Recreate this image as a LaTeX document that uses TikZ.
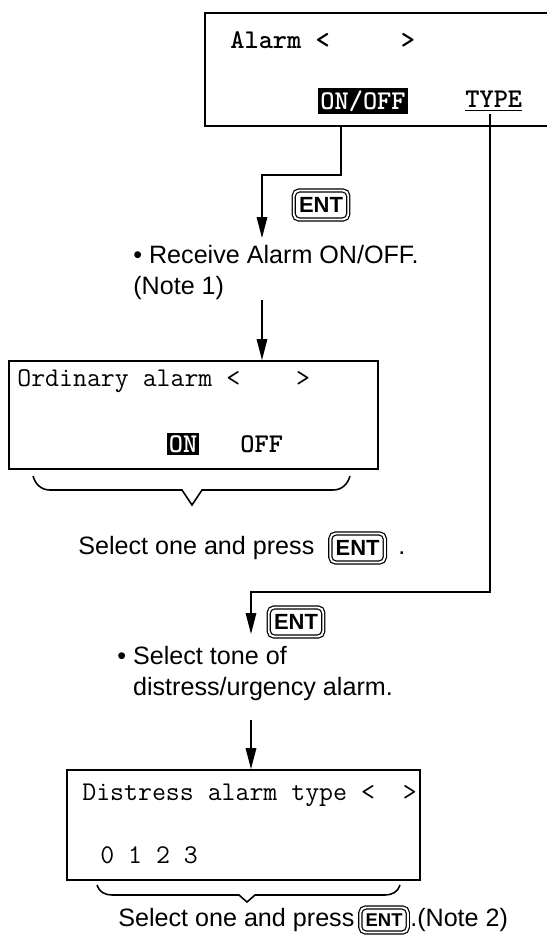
\documentclass[tikz,border=0pt]{standalone}
\usepackage{fontspec}
\setmainfont{Liberation Sans}
\usetikzlibrary{positioning,arrows.meta}

\begin{document}
\begin{tikzpicture}[
x=0.02cm, y=-0.02cm,
lcd/.style={
draw,
line width=1pt,
inner sep=0pt
},
lcdtext/.style={
anchor=west,
inner sep=0pt,
font=\ttfamily\fontsize{15.4}{18}\selectfont
},
lcdbold/.style={
lcdtext,
font=\ttfamily\bfseries\fontsize{15.4}{18}\selectfont
},
selected/.style={
fill=black,
text=white,
inner sep=1.2pt,
font=\ttfamily\bfseries\fontsize{15.4}{18}\selectfont
},
entkey/.style={
draw,
double=white,
double distance=1.1pt,
line width=0.7pt,
rounded corners=3pt,
inner xsep=3pt,
inner ysep=2pt,
minimum height=0.58cm,
font=\bfseries\fontsize{12.5}{12.5}\selectfont
},
note/.style={
inner sep=0pt,
align=left,
font=\fontsize{14.3}{17.5}\selectfont
},
arrow/.style={
-{Triangle[length=0.42cm,width=0.21cm]},
line width=0.9pt
},
line/.style={
line width=0.9pt
}
]

\useasboundingbox (0,0) rectangle (547,938);

% first menu
\node[lcd, minimum width=6.94cm, minimum height=2.26cm] (alarmbox) at (378.5,69.5) {};
\node[lcdbold] (alarmtitle) at (230,40) {Alarm <\ \ \ \ \ >};
\node[selected] (onoff) at (363,101) {ON/OFF};
\node[lcdbold] (type) at (465,101) {\underline{TYPE}};

\coordinate (onoffout) at (341,126);
\coordinate (typeout) at (490,114);
\coordinate (receivetop) at (262,238);

\draw[arrow] (onoffout) |- (262,175) -- (receivetop);
\node[entkey] (ent1) at (321,205) {ENT};

\node[note, anchor=north west] (receive) at (133,245)
{\textbullet\ Receive Alarm ON/OFF.\\(Note 1)};

% ordinary alarm
\node[lcd, minimum width=7.38cm, minimum height=2.16cm] (ordbox) at (193.5,415) {};
\node[lcdtext] (ordtitle) at (17,381) {Ordinary alarm <\ \ \ \ >};
\node[selected] (ordon) at (183,444) {ON};
\node[lcdbold] (ordoff) at (240,444) {OFF};

\coordinate (note1bottom) at (262,300);
\draw[arrow] (note1bottom) -- (note1bottom |- ordbox.north);

\draw[line] (33,476) to[out=-75,in=180] (50,490) -- (182,490)
-- (192,505) -- (202,490) -- (333,490) to[out=0,in=-105] (350,476);

\node[note, anchor=west] (select1) at (78,548) {Select one and press};
\node[entkey, right=0.3cm of select1] (ent3) {ENT};
\node[note, anchor=base west] (dot1) at ([xshift=0.25cm]ent3.east |- select1.base) {.};

% alarm type
\coordinate (tonetop) at (251,634);
\draw[arrow] (typeout) |- (251,592) -- (tonetop);
\node[entkey] (ent2) at (296,622) {ENT};

\node[note, anchor=north west] (tone) at (117,646)
{\textbullet\ Select tone of\\\hphantom{\textbullet\ }distress/urgency alarm.};

\node[lcd, minimum width=7.06cm, minimum height=2.2cm] (distbox) at (243.5,825) {};
\node[lcdtext] (disttitle) at (82,795) {Distress alarm type <\ \ >};
\node[lcdtext] (distvalues) at (100,855) {0 1 2 3};

\coordinate (tonebottom) at (251,720);
\draw[arrow] (tonebottom) -- (tonebottom |- distbox.north);

\draw[line] (97,885) to[out=-75,in=180] (112,895) -- (239,895)
-- (247,902) -- (255,895) -- (385,895) to[out=0,in=-105] (400,885);

\node[note, anchor=west] (select2) at (118,920) {Select one and press};
\node[entkey, minimum height=0.5cm, inner ysep=1pt,
font=\bfseries\fontsize{10.5}{10.5}\selectfont, right=0.1cm of select2] (ent4) {ENT};
\node[note, anchor=base west] (note2) at ([xshift=0.03cm]ent4.east |- select2.base) {.(Note 2)};

\end{tikzpicture}
\end{document}
